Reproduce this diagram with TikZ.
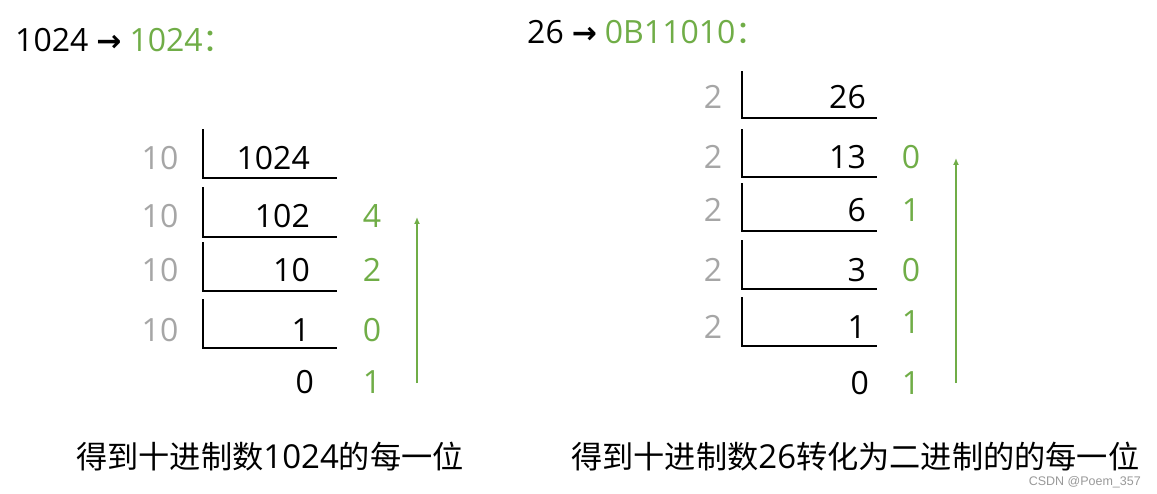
\documentclass[tikz,border=0pt]{standalone}
\usepackage{fontspec}
\setmainfont{Open Sans}
\newfontfamily\cjk{Noto Sans CJK SC}
\newfontfamily\arrowfont{DejaVu Sans}
\newfontfamily\wmfont{Liberation Sans}
\usetikzlibrary{arrows.meta}
\definecolor{mygreen}{HTML}{70AD47}
\definecolor{mygray}{HTML}{A6A6A6}
\newcommand{\tarrow}{{\arrowfont\bfseries\fontsize{30}{34}\selectfont →}}
\begin{document}
\begin{tikzpicture}[x=1pt,y=-1pt,
  numtxt/.style={font=\fontsize{32}{36}\selectfont, inner sep=0pt},
  quot/.style={numtxt, anchor=base east, text=black},
  rem/.style={numtxt, anchor=base, text=mygreen},
  divisor/.style={numtxt, anchor=base, text=mygray},
  bar/.style={line width=2.2pt, line cap=rect},
  uparrow/.style={draw=mygreen, line width=1.5pt, -{Latex[length=7pt,width=6pt]}},
  caption/.style={font=\cjk\fontsize{31.2}{36}\selectfont, inner sep=0pt, anchor=base west},
  title/.style={font=\fontsize{32}{36}\selectfont, inner sep=0pt, anchor=base west}]
\useasboundingbox (0,0) rectangle (1157,494);
\fill[white] (0,0) rectangle (1157,494);

% titles
\node[title] (t1) at (15,52) {1024\hspace{8pt}\tarrow\hspace{8pt}\textcolor{mygreen}{1024{\cjk ：}}};
\node[title] (t2) at (527,44) {26\hspace{8pt}\tarrow\hspace{8pt}\textcolor{mygreen}{0B11010{\cjk ：}}};

% left division (base 10)
\foreach \i/\top/\bot/\bl/\q in {1/130/178/170/1024, 2/188/237/228/102, 3/243/291/282/10, 4/300/348/342/1} {
  \node[divisor] (ld\i) at (160,\bl) {10};
  \node[quot] (lq\i) at (310,\bl) {\q};
  \coordinate (lbt\i) at (203,\top);
  \coordinate (lbb\i) at (203,\bot);
  \coordinate (lbe\i) at (336,\bot);
  \draw[bar] (lbt\i) -- (lbb\i) -- (lbe\i);
}
\node[quot] (lq5) at (314,393) {0};
\node[rem] (lr2) at (372,228) {4};
\node[rem] (lr3) at (372,282) {2};
\node[rem] (lr4) at (372,342) {0};
\node[rem] (lr5) at (372,393) {1};
\coordinate (la0) at (417,383);
\coordinate (la1) at (417,217);
\draw[uparrow] (la0) -- (la1);

% right division (base 2)
\foreach \i/\top/\bot/\bl/\q in {1/72/118/109/26, 2/130/177/169/13, 3/184/231/222/6, 4/241/289/282/3, 5/298/346/338/1} {
  \node[divisor] (rd\i) at (713,\bl) {2};
  \node[quot] (rq\i) at (866,\bl) {\q};
  \coordinate (rbt\i) at (742,\top);
  \coordinate (rbb\i) at (742,\bot);
  \coordinate (rbe\i) at (876,\bot);
  \draw[bar] (rbt\i) -- (rbb\i) -- (rbe\i);
}
\node[quot] (rq6) at (869,395) {0};
\node[rem] (rr2) at (911,169) {0};
\node[rem] (rr3) at (911,222) {1};
\node[rem] (rr4) at (911,282) {0};
\node[rem] (rr5) at (911,334) {1};
\node[rem] (rr6) at (911,395) {1};
\coordinate (ra0) at (956,383);
\coordinate (ra1) at (956,158);
\draw[uparrow] (ra0) -- (ra1);

% captions
\node[caption] (c1) at (76,468) {得到十进制数{\fontspec{Open Sans}\fontsize{33}{36}\selectfont 1024}的每一位};
\node[caption] (c2) at (571,468) {得到十进制数{\fontspec{Open Sans}\fontsize{33}{36}\selectfont 26}转化为二进制的的每一位};

% watermark
\node[font=\wmfont\fontsize{12.5}{14}\selectfont, text=gray!80, anchor=base east, inner sep=0pt] (wm) at (1141,485) {CSDN @Poem\_357};
\end{tikzpicture}
\end{document}
